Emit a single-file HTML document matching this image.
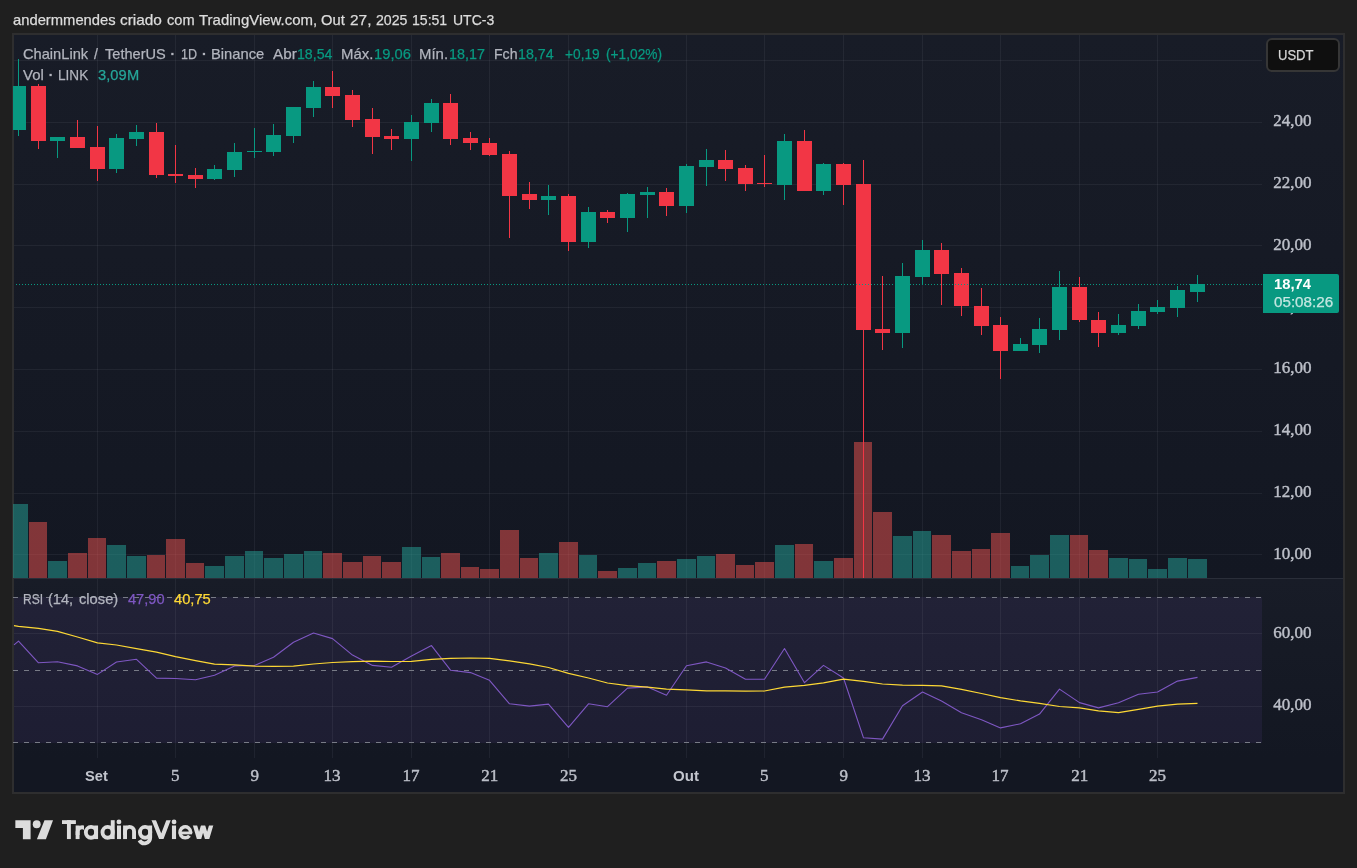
<!DOCTYPE html>
<html lang="pt"><head><meta charset="utf-8"><title>LINKUSDT</title>
<style>
html,body{margin:0;padding:0;background:#1f1f1f;}
body{width:1357px;height:868px;position:relative;overflow:hidden;font-family:"Liberation Sans",sans-serif;}
.t{position:absolute;white-space:pre;transform-origin:0 0;margin:0;padding:0;}
.s{font-family:"Liberation Sans",sans-serif;font-size:15px;line-height:18px;}
.r{font-family:"Liberation Serif",serif;font-size:17px;line-height:20px;color:#bcbfc8;}
#frame{position:absolute;left:12px;top:33px;width:1329px;height:757px;border:2px solid #2e2e2f;background:#131722;}
.pane{position:absolute;left:0;width:1329px;background:linear-gradient(to bottom,#181c27,#131722);}
#g{position:absolute;left:0;top:0;}
#tx,#tx2{position:absolute;left:0;top:0;width:1357px;height:868px;will-change:transform;}
#cur{position:absolute;left:1266px;top:38px;width:70px;height:30px;border:2px solid #363636;border-radius:6px;background:#0f0f0f;}
#plab{position:absolute;left:1263px;top:274px;width:76px;height:39px;background:#089981;border-radius:0 2px 2px 0;}
</style></head><body>
<div id="frame"><div class="pane" style="top:0;height:543px"></div><div style="position:absolute;left:0;top:543px;width:1329px;height:1px;background:#2a2e39"></div><div class="pane" style="top:544px;height:179px"></div></div>
<svg id="g" width="1357" height="868" viewBox="0 0 1357 868">
<g shape-rendering="crispEdges">
<rect x="14" y="597" width="1248" height="146" fill="rgba(126,87,194,0.1)"/>
<rect x="97" y="35" width="1" height="543" fill="rgba(240,243,250,0.06)"/>
<rect x="97" y="579" width="1" height="179" fill="rgba(240,243,250,0.06)"/>
<rect x="175" y="35" width="1" height="543" fill="rgba(240,243,250,0.06)"/>
<rect x="175" y="579" width="1" height="179" fill="rgba(240,243,250,0.06)"/>
<rect x="254" y="35" width="1" height="543" fill="rgba(240,243,250,0.06)"/>
<rect x="254" y="579" width="1" height="179" fill="rgba(240,243,250,0.06)"/>
<rect x="332" y="35" width="1" height="543" fill="rgba(240,243,250,0.06)"/>
<rect x="332" y="579" width="1" height="179" fill="rgba(240,243,250,0.06)"/>
<rect x="411" y="35" width="1" height="543" fill="rgba(240,243,250,0.06)"/>
<rect x="411" y="579" width="1" height="179" fill="rgba(240,243,250,0.06)"/>
<rect x="489" y="35" width="1" height="543" fill="rgba(240,243,250,0.06)"/>
<rect x="489" y="579" width="1" height="179" fill="rgba(240,243,250,0.06)"/>
<rect x="568" y="35" width="1" height="543" fill="rgba(240,243,250,0.06)"/>
<rect x="568" y="579" width="1" height="179" fill="rgba(240,243,250,0.06)"/>
<rect x="686" y="35" width="1" height="543" fill="rgba(240,243,250,0.06)"/>
<rect x="686" y="579" width="1" height="179" fill="rgba(240,243,250,0.06)"/>
<rect x="764" y="35" width="1" height="543" fill="rgba(240,243,250,0.06)"/>
<rect x="764" y="579" width="1" height="179" fill="rgba(240,243,250,0.06)"/>
<rect x="843" y="35" width="1" height="543" fill="rgba(240,243,250,0.06)"/>
<rect x="843" y="579" width="1" height="179" fill="rgba(240,243,250,0.06)"/>
<rect x="922" y="35" width="1" height="543" fill="rgba(240,243,250,0.06)"/>
<rect x="922" y="579" width="1" height="179" fill="rgba(240,243,250,0.06)"/>
<rect x="1000" y="35" width="1" height="543" fill="rgba(240,243,250,0.06)"/>
<rect x="1000" y="579" width="1" height="179" fill="rgba(240,243,250,0.06)"/>
<rect x="1079" y="35" width="1" height="543" fill="rgba(240,243,250,0.06)"/>
<rect x="1079" y="579" width="1" height="179" fill="rgba(240,243,250,0.06)"/>
<rect x="1157" y="35" width="1" height="543" fill="rgba(240,243,250,0.06)"/>
<rect x="1157" y="579" width="1" height="179" fill="rgba(240,243,250,0.06)"/>
<rect x="14" y="60" width="1248" height="1" fill="rgba(240,243,250,0.06)"/>
<rect x="14" y="122" width="1248" height="1" fill="rgba(240,243,250,0.06)"/>
<rect x="14" y="184" width="1248" height="1" fill="rgba(240,243,250,0.06)"/>
<rect x="14" y="245" width="1248" height="1" fill="rgba(240,243,250,0.06)"/>
<rect x="14" y="307" width="1248" height="1" fill="rgba(240,243,250,0.06)"/>
<rect x="14" y="369" width="1248" height="1" fill="rgba(240,243,250,0.06)"/>
<rect x="14" y="431" width="1248" height="1" fill="rgba(240,243,250,0.06)"/>
<rect x="14" y="493" width="1248" height="1" fill="rgba(240,243,250,0.06)"/>
<rect x="14" y="554" width="1248" height="1" fill="rgba(240,243,250,0.06)"/>
<rect x="14" y="633" width="1248" height="1" fill="rgba(240,243,250,0.06)"/>
<rect x="14" y="706" width="1248" height="1" fill="rgba(240,243,250,0.06)"/>
<rect x="13" y="504" width="15" height="74" fill="rgba(38,166,154,0.5)"/>
<rect x="29" y="522" width="18" height="56" fill="rgba(239,83,80,0.5)"/>
<rect x="48" y="561" width="19" height="17" fill="rgba(38,166,154,0.5)"/>
<rect x="68" y="553" width="19" height="25" fill="rgba(239,83,80,0.5)"/>
<rect x="88" y="538" width="18" height="40" fill="rgba(239,83,80,0.5)"/>
<rect x="107" y="545" width="19" height="33" fill="rgba(38,166,154,0.5)"/>
<rect x="127" y="556" width="19" height="22" fill="rgba(38,166,154,0.5)"/>
<rect x="147" y="555" width="18" height="23" fill="rgba(239,83,80,0.5)"/>
<rect x="166" y="539" width="19" height="39" fill="rgba(239,83,80,0.5)"/>
<rect x="186" y="563" width="18" height="15" fill="rgba(239,83,80,0.5)"/>
<rect x="205" y="566" width="19" height="12" fill="rgba(38,166,154,0.5)"/>
<rect x="225" y="556" width="19" height="22" fill="rgba(38,166,154,0.5)"/>
<rect x="245" y="551" width="18" height="27" fill="rgba(38,166,154,0.5)"/>
<rect x="264" y="558" width="19" height="20" fill="rgba(38,166,154,0.5)"/>
<rect x="284" y="554" width="19" height="24" fill="rgba(38,166,154,0.5)"/>
<rect x="304" y="551" width="18" height="27" fill="rgba(38,166,154,0.5)"/>
<rect x="323" y="553" width="19" height="25" fill="rgba(239,83,80,0.5)"/>
<rect x="343" y="562" width="19" height="16" fill="rgba(239,83,80,0.5)"/>
<rect x="363" y="556" width="18" height="22" fill="rgba(239,83,80,0.5)"/>
<rect x="382" y="562" width="19" height="16" fill="rgba(239,83,80,0.5)"/>
<rect x="402" y="547" width="19" height="31" fill="rgba(38,166,154,0.5)"/>
<rect x="422" y="557" width="18" height="21" fill="rgba(38,166,154,0.5)"/>
<rect x="441" y="553" width="19" height="25" fill="rgba(239,83,80,0.5)"/>
<rect x="461" y="567" width="18" height="11" fill="rgba(239,83,80,0.5)"/>
<rect x="480" y="569" width="19" height="9" fill="rgba(239,83,80,0.5)"/>
<rect x="500" y="530" width="19" height="48" fill="rgba(239,83,80,0.5)"/>
<rect x="520" y="558" width="18" height="20" fill="rgba(239,83,80,0.5)"/>
<rect x="539" y="553" width="19" height="25" fill="rgba(38,166,154,0.5)"/>
<rect x="559" y="542" width="19" height="36" fill="rgba(239,83,80,0.5)"/>
<rect x="579" y="555" width="18" height="23" fill="rgba(38,166,154,0.5)"/>
<rect x="598" y="571" width="19" height="7" fill="rgba(239,83,80,0.5)"/>
<rect x="618" y="568" width="19" height="10" fill="rgba(38,166,154,0.5)"/>
<rect x="638" y="563" width="18" height="15" fill="rgba(38,166,154,0.5)"/>
<rect x="657" y="561" width="19" height="17" fill="rgba(239,83,80,0.5)"/>
<rect x="677" y="559" width="19" height="19" fill="rgba(38,166,154,0.5)"/>
<rect x="697" y="556" width="18" height="22" fill="rgba(38,166,154,0.5)"/>
<rect x="716" y="554" width="19" height="24" fill="rgba(239,83,80,0.5)"/>
<rect x="736" y="565" width="18" height="13" fill="rgba(239,83,80,0.5)"/>
<rect x="755" y="562" width="19" height="16" fill="rgba(239,83,80,0.5)"/>
<rect x="775" y="545" width="19" height="33" fill="rgba(38,166,154,0.5)"/>
<rect x="795" y="544" width="18" height="34" fill="rgba(239,83,80,0.5)"/>
<rect x="814" y="561" width="19" height="17" fill="rgba(38,166,154,0.5)"/>
<rect x="834" y="558" width="19" height="20" fill="rgba(239,83,80,0.5)"/>
<rect x="854" y="442" width="18" height="136" fill="rgba(239,83,80,0.5)"/>
<rect x="873" y="512" width="19" height="66" fill="rgba(239,83,80,0.5)"/>
<rect x="893" y="536" width="19" height="42" fill="rgba(38,166,154,0.5)"/>
<rect x="913" y="531" width="18" height="47" fill="rgba(38,166,154,0.5)"/>
<rect x="932" y="535" width="19" height="43" fill="rgba(239,83,80,0.5)"/>
<rect x="952" y="551" width="19" height="27" fill="rgba(239,83,80,0.5)"/>
<rect x="972" y="549" width="18" height="29" fill="rgba(239,83,80,0.5)"/>
<rect x="991" y="533" width="19" height="45" fill="rgba(239,83,80,0.5)"/>
<rect x="1011" y="566" width="18" height="12" fill="rgba(38,166,154,0.5)"/>
<rect x="1030" y="555" width="19" height="23" fill="rgba(38,166,154,0.5)"/>
<rect x="1050" y="535" width="19" height="43" fill="rgba(38,166,154,0.5)"/>
<rect x="1070" y="535" width="18" height="43" fill="rgba(239,83,80,0.5)"/>
<rect x="1089" y="550" width="19" height="28" fill="rgba(239,83,80,0.5)"/>
<rect x="1109" y="558" width="19" height="20" fill="rgba(38,166,154,0.5)"/>
<rect x="1129" y="559" width="18" height="19" fill="rgba(38,166,154,0.5)"/>
<rect x="1148" y="569" width="19" height="9" fill="rgba(38,166,154,0.5)"/>
<rect x="1168" y="558" width="19" height="20" fill="rgba(38,166,154,0.5)"/>
<rect x="1188" y="559" width="19" height="19" fill="rgba(38,166,154,0.5)"/>
<rect x="18" y="59" width="1" height="77" fill="#089981"/>
<rect x="13" y="86" width="13" height="44" fill="#089981"/>
<rect x="38" y="84" width="1" height="65" fill="#f23645"/>
<rect x="31" y="86" width="15" height="55" fill="#f23645"/>
<rect x="57" y="137" width="1" height="21" fill="#089981"/>
<rect x="50" y="137" width="15" height="4" fill="#089981"/>
<rect x="77" y="120" width="1" height="28" fill="#f23645"/>
<rect x="70" y="137" width="15" height="11" fill="#f23645"/>
<rect x="97" y="126" width="1" height="55" fill="#f23645"/>
<rect x="90" y="147" width="15" height="22" fill="#f23645"/>
<rect x="116" y="134" width="1" height="39" fill="#089981"/>
<rect x="109" y="138" width="15" height="31" fill="#089981"/>
<rect x="136" y="125" width="1" height="21" fill="#089981"/>
<rect x="129" y="132" width="15" height="7" fill="#089981"/>
<rect x="156" y="123" width="1" height="55" fill="#f23645"/>
<rect x="149" y="132" width="15" height="43" fill="#f23645"/>
<rect x="175" y="145" width="1" height="38" fill="#f23645"/>
<rect x="168" y="174" width="15" height="2" fill="#f23645"/>
<rect x="195" y="168" width="1" height="20" fill="#f23645"/>
<rect x="188" y="175" width="15" height="4" fill="#f23645"/>
<rect x="214" y="165" width="1" height="15" fill="#089981"/>
<rect x="207" y="169" width="15" height="10" fill="#089981"/>
<rect x="234" y="143" width="1" height="34" fill="#089981"/>
<rect x="227" y="152" width="15" height="18" fill="#089981"/>
<rect x="254" y="128" width="1" height="30" fill="#089981"/>
<rect x="247" y="151" width="15" height="1" fill="#089981"/>
<rect x="273" y="124" width="1" height="32" fill="#089981"/>
<rect x="266" y="135" width="15" height="17" fill="#089981"/>
<rect x="293" y="107" width="1" height="36" fill="#089981"/>
<rect x="286" y="107" width="15" height="29" fill="#089981"/>
<rect x="313" y="81" width="1" height="36" fill="#089981"/>
<rect x="306" y="87" width="15" height="21" fill="#089981"/>
<rect x="332" y="71" width="1" height="37" fill="#f23645"/>
<rect x="325" y="87" width="15" height="9" fill="#f23645"/>
<rect x="352" y="90" width="1" height="37" fill="#f23645"/>
<rect x="345" y="95" width="15" height="25" fill="#f23645"/>
<rect x="372" y="108" width="1" height="46" fill="#f23645"/>
<rect x="365" y="119" width="15" height="18" fill="#f23645"/>
<rect x="391" y="129" width="1" height="21" fill="#f23645"/>
<rect x="384" y="136" width="15" height="3" fill="#f23645"/>
<rect x="411" y="115" width="1" height="46" fill="#089981"/>
<rect x="404" y="122" width="15" height="17" fill="#089981"/>
<rect x="431" y="99" width="1" height="33" fill="#089981"/>
<rect x="424" y="103" width="15" height="20" fill="#089981"/>
<rect x="450" y="94" width="1" height="51" fill="#f23645"/>
<rect x="443" y="103" width="15" height="36" fill="#f23645"/>
<rect x="470" y="132" width="1" height="18" fill="#f23645"/>
<rect x="463" y="138" width="15" height="5" fill="#f23645"/>
<rect x="489" y="138" width="1" height="18" fill="#f23645"/>
<rect x="482" y="143" width="15" height="12" fill="#f23645"/>
<rect x="509" y="151" width="1" height="87" fill="#f23645"/>
<rect x="502" y="154" width="15" height="42" fill="#f23645"/>
<rect x="529" y="182" width="1" height="27" fill="#f23645"/>
<rect x="522" y="194" width="15" height="6" fill="#f23645"/>
<rect x="548" y="185" width="1" height="30" fill="#089981"/>
<rect x="541" y="196" width="15" height="4" fill="#089981"/>
<rect x="568" y="194" width="1" height="57" fill="#f23645"/>
<rect x="561" y="196" width="15" height="46" fill="#f23645"/>
<rect x="588" y="207" width="1" height="41" fill="#089981"/>
<rect x="581" y="212" width="15" height="30" fill="#089981"/>
<rect x="607" y="210" width="1" height="13" fill="#f23645"/>
<rect x="600" y="212" width="15" height="6" fill="#f23645"/>
<rect x="627" y="193" width="1" height="39" fill="#089981"/>
<rect x="620" y="194" width="15" height="24" fill="#089981"/>
<rect x="647" y="187" width="1" height="31" fill="#089981"/>
<rect x="640" y="192" width="15" height="3" fill="#089981"/>
<rect x="666" y="188" width="1" height="28" fill="#f23645"/>
<rect x="659" y="192" width="15" height="14" fill="#f23645"/>
<rect x="686" y="164" width="1" height="49" fill="#089981"/>
<rect x="679" y="166" width="15" height="40" fill="#089981"/>
<rect x="706" y="149" width="1" height="37" fill="#089981"/>
<rect x="699" y="160" width="15" height="7" fill="#089981"/>
<rect x="725" y="150" width="1" height="31" fill="#f23645"/>
<rect x="718" y="160" width="15" height="9" fill="#f23645"/>
<rect x="745" y="165" width="1" height="26" fill="#f23645"/>
<rect x="738" y="168" width="15" height="16" fill="#f23645"/>
<rect x="764" y="155" width="1" height="32" fill="#f23645"/>
<rect x="757" y="183" width="15" height="1" fill="#f23645"/>
<rect x="784" y="134" width="1" height="66" fill="#089981"/>
<rect x="777" y="141" width="15" height="44" fill="#089981"/>
<rect x="804" y="130" width="1" height="61" fill="#f23645"/>
<rect x="797" y="141" width="15" height="50" fill="#f23645"/>
<rect x="823" y="163" width="1" height="32" fill="#089981"/>
<rect x="816" y="164" width="15" height="27" fill="#089981"/>
<rect x="843" y="163" width="1" height="42" fill="#f23645"/>
<rect x="836" y="164" width="15" height="21" fill="#f23645"/>
<rect x="863" y="160" width="1" height="418" fill="#f23645"/>
<rect x="856" y="184" width="15" height="146" fill="#f23645"/>
<rect x="882" y="276" width="1" height="74" fill="#f23645"/>
<rect x="875" y="329" width="15" height="4" fill="#f23645"/>
<rect x="902" y="263" width="1" height="85" fill="#089981"/>
<rect x="895" y="276" width="15" height="57" fill="#089981"/>
<rect x="922" y="240" width="1" height="45" fill="#089981"/>
<rect x="915" y="250" width="15" height="27" fill="#089981"/>
<rect x="941" y="243" width="1" height="62" fill="#f23645"/>
<rect x="934" y="250" width="15" height="24" fill="#f23645"/>
<rect x="961" y="268" width="1" height="48" fill="#f23645"/>
<rect x="954" y="273" width="15" height="33" fill="#f23645"/>
<rect x="981" y="288" width="1" height="47" fill="#f23645"/>
<rect x="974" y="306" width="15" height="20" fill="#f23645"/>
<rect x="1000" y="317" width="1" height="62" fill="#f23645"/>
<rect x="993" y="325" width="15" height="26" fill="#f23645"/>
<rect x="1020" y="338" width="1" height="13" fill="#089981"/>
<rect x="1013" y="344" width="15" height="7" fill="#089981"/>
<rect x="1039" y="318" width="1" height="35" fill="#089981"/>
<rect x="1032" y="329" width="15" height="16" fill="#089981"/>
<rect x="1059" y="271" width="1" height="69" fill="#089981"/>
<rect x="1052" y="287" width="15" height="43" fill="#089981"/>
<rect x="1079" y="277" width="1" height="45" fill="#f23645"/>
<rect x="1072" y="287" width="15" height="33" fill="#f23645"/>
<rect x="1098" y="312" width="1" height="35" fill="#f23645"/>
<rect x="1091" y="320" width="15" height="13" fill="#f23645"/>
<rect x="1118" y="314" width="1" height="21" fill="#089981"/>
<rect x="1111" y="325" width="15" height="8" fill="#089981"/>
<rect x="1138" y="304" width="1" height="25" fill="#089981"/>
<rect x="1131" y="311" width="15" height="15" fill="#089981"/>
<rect x="1157" y="300" width="1" height="14" fill="#089981"/>
<rect x="1150" y="307" width="15" height="5" fill="#089981"/>
<rect x="1177" y="286" width="1" height="31" fill="#089981"/>
<rect x="1170" y="290" width="15" height="18" fill="#089981"/>
<rect x="1197" y="275" width="1" height="27" fill="#089981"/>
<rect x="1190" y="284" width="15" height="8" fill="#089981"/>
<path d="M16 284.5H1262" stroke="#089981" stroke-width="1" stroke-dasharray="1 2" fill="none"/>
<path d="M13 597.5H1262" stroke="#787b86" stroke-width="1" stroke-dasharray="5 6" fill="none"/>
<path d="M13 670.5H1262" stroke="#787b86" stroke-width="1" stroke-dasharray="5 6" fill="none"/>
<path d="M13 742.5H1262" stroke="#787b86" stroke-width="1" stroke-dasharray="5 6" fill="none"/>
</g>
<polyline points="14,644.8 18.5,641.1 38.5,662.8 57.5,661.8 77.5,665.9 97.5,674.4 116.5,662.0 136.5,659.3 156.5,678.1 175.5,678.5 195.5,679.7 214.5,675.2 234.5,665.9 254.5,665.5 273.5,657.3 293.5,642.3 313.5,633.0 332.5,638.6 352.5,655.1 372.5,665.4 391.5,667.3 411.5,656.1 431.5,645.6 450.5,670.2 470.5,672.6 489.5,680.3 509.5,703.8 529.5,706.1 548.5,704.1 568.5,727.3 588.5,703.8 607.5,706.7 627.5,688.1 647.5,686.9 666.5,695.3 686.5,665.8 706.5,661.9 725.5,667.9 745.5,679.2 764.5,679.2 784.5,648.5 804.5,682.7 823.5,665.4 843.5,678.0 863.5,737.8 882.5,739.1 902.5,705.7 922.5,692.0 941.5,701.1 961.5,712.7 981.5,719.7 1000.5,727.9 1020.5,723.8 1039.5,714.1 1059.5,689.1 1079.5,702.6 1098.5,707.9 1118.5,702.8 1138.5,694.3 1157.5,692.0 1177.5,681.1 1197.5,677.4" fill="none" stroke="#7e57c2" stroke-width="1.1" stroke-linejoin="round" stroke-linecap="butt"/>
<polyline points="14,625.7 18.5,626.3 38.5,628.3 57.5,631.4 77.5,637.0 97.5,642.8 116.5,645.0 136.5,648.6 156.5,652.1 175.5,656.6 195.5,660.7 214.5,664.2 234.5,664.9 254.5,666.1 273.5,666.3 293.5,666.2 313.5,664.0 332.5,662.5 352.5,661.7 372.5,661.1 391.5,661.5 411.5,661.3 431.5,659.4 450.5,658.4 470.5,658.0 489.5,658.4 509.5,660.9 529.5,663.8 548.5,667.5 568.5,673.3 588.5,678.0 607.5,683.0 627.5,685.6 647.5,687.1 666.5,689.1 686.5,689.8 706.5,690.8 725.5,690.8 745.5,691.2 764.5,691.0 784.5,687.1 804.5,685.3 823.5,682.8 843.5,679.2 863.5,681.3 882.5,684.0 902.5,685.2 922.5,685.4 941.5,685.8 961.5,689.4 981.5,693.5 1000.5,697.6 1020.5,700.9 1039.5,703.4 1059.5,706.5 1079.5,707.8 1098.5,710.8 1118.5,712.7 1138.5,709.4 1157.5,706.1 1177.5,704.2 1197.5,703.4" fill="none" stroke="#fdd835" stroke-width="1.2" stroke-linejoin="round" stroke-linecap="butt"/>
<rect x="171.25" y="52.85" width="2.3" height="2.3" fill="#b2b5be"/>
<rect x="202.80" y="52.85" width="2.3" height="2.3" fill="#b2b5be"/>
<rect x="49.45" y="73.85" width="2.3" height="2.3" fill="#b2b5be"/>
<g fill="#dcdcdc" stroke="none">
<path d="M15.35 820.2H30.6V839.25H22.9V827.95H15.35Z"/>
<circle cx="36.7" cy="824.25" r="3.95"/>
<path d="M44.5 820.2H53L45.9 839.25H36.9Z"/>
<rect x="62" y="820.2" width="13.9" height="3.8"/><rect x="66.95" y="820.2" width="3.9" height="18.87"/>
<rect x="75.65" y="825.5" width="3.9" height="13.57"/>
<rect x="94.15" y="825.5" width="3.9" height="13.57"/>
<rect x="110.78" y="820.2" width="3.9" height="18.87"/>
<rect x="117" y="825.5" width="4" height="13.57"/><circle cx="118.95" cy="821.95" r="2.4"/>
<rect x="123.1" y="825.5" width="3.9" height="13.57"/>
<rect x="171.95" y="825.5" width="4.1" height="13.57"/><circle cx="174.05" cy="821.95" r="2.4"/>
</g>
<defs><clipPath id="cr"><rect x="70" y="815" width="13.9" height="30"/></clipPath><clipPath id="cv"><rect x="140" y="820.2" width="40" height="18.87"/></clipPath><clipPath id="cw"><rect x="185" y="825.5" width="35" height="13.57"/></clipPath><clipPath id="ce"><ellipse cx="185.27" cy="832.3" rx="7.1" ry="7.4"/></clipPath></defs>
<g fill="none" stroke="#dcdcdc" stroke-width="3.9">
<path clip-path="url(#cr)" d="M77.6 835V831.8A4.5 4.5 0 0 1 86.6 831.8"/>
<ellipse cx="91" cy="832.3" rx="5.15" ry="5.4"/>
<ellipse cx="107.63" cy="832.3" rx="5.15" ry="5.4"/>
<path d="M125.05 835V831.4A4.5 4.5 0 0 1 134.05 831.4V839.07"/>
<ellipse cx="145.1" cy="832.3" rx="5.15" ry="5.4"/>
<path d="M150.17 825.5V837.6A5.7 5.7 0 0 1 139.44 840.27"/>
<path stroke-width="3.5" d="M190.62 832.3A5.35 5.55 0 1 0 189.49 835.72"/>
</g>
<rect clip-path="url(#ce)" x="181" y="831.55" width="12" height="2.8" fill="#dcdcdc"/>
<g fill="none" stroke="#dcdcdc" stroke-width="4.15" stroke-linejoin="miter" stroke-miterlimit="10">
<path clip-path="url(#cv)" d="M152.64 817.41L162.41 841.86M169.57 817.40L160.23 841.87"/>
<path clip-path="url(#cw)" d="M194.18 822.62L199.90 841.95M198.20 841.95L203.92 822.62M202.22 822.62L207.94 841.95M206.24 841.95L211.96 822.62"/>
</g>
</svg>
<div id="cur"></div>
<div id="tx">
<span class="t s" style="left:13.26px;top:11.00px;transform:scaleX(0.9849);color:#dcdcdc;-webkit-text-stroke:0.25px currentColor;">andermmendes</span>
<span class="t s" style="left:119.81px;top:11.00px;transform:scaleX(1.0264);color:#dcdcdc;-webkit-text-stroke:0.25px currentColor;">criado</span>
<span class="t s" style="left:166.51px;top:11.00px;transform:scaleX(0.9745);color:#dcdcdc;-webkit-text-stroke:0.25px currentColor;">com</span>
<span class="t s" style="left:199.19px;top:11.00px;transform:scaleX(0.9984);color:#dcdcdc;-webkit-text-stroke:0.25px currentColor;">TradingView.com,</span>
<span class="t s" style="left:321.26px;top:11.00px;transform:scaleX(0.9816);color:#dcdcdc;-webkit-text-stroke:0.25px currentColor;">Out</span>
<span class="t s" style="left:350.43px;top:11.00px;transform:scaleX(1.0294);color:#dcdcdc;-webkit-text-stroke:0.25px currentColor;">27,</span>
<span class="t s" style="left:375.88px;top:11.00px;transform:scaleX(0.9419);color:#dcdcdc;-webkit-text-stroke:0.25px currentColor;">2025</span>
<span class="t s" style="left:412.42px;top:11.00px;transform:scaleX(0.9365);color:#dcdcdc;-webkit-text-stroke:0.25px currentColor;">15:51</span>
<span class="t s" style="left:453.24px;top:11.00px;transform:scaleX(0.9326);color:#dcdcdc;-webkit-text-stroke:0.25px currentColor;">UTC-3</span>
<span class="t s" style="left:23.33px;top:45.00px;transform:scaleX(0.9765);color:#b2b5be;-webkit-text-stroke:0.25px currentColor;">ChainLink</span>
<span class="t s" style="left:94.45px;top:45.00px;transform:scaleX(0.9348);color:#b2b5be;-webkit-text-stroke:0.25px currentColor;">/</span>
<span class="t s" style="left:105.38px;top:45.00px;transform:scaleX(0.9713);color:#b2b5be;-webkit-text-stroke:0.25px currentColor;">TetherUS</span>
<span class="t s" style="left:181.00px;top:45.00px;transform:scaleX(0.8361);color:#b2b5be;-webkit-text-stroke:0.25px currentColor;">1D</span>
<span class="t s" style="left:210.65px;top:45.00px;transform:scaleX(0.9820);color:#b2b5be;-webkit-text-stroke:0.25px currentColor;">Binance</span>
<span class="t s" style="left:273.11px;top:45.00px;transform:scaleX(1.0180);color:#b2b5be;-webkit-text-stroke:0.25px currentColor;">Abr</span>
<span class="t s" style="left:296.81px;top:45.00px;transform:scaleX(0.9416);color:#089981;-webkit-text-stroke:0.25px currentColor;">18,54</span>
<span class="t s" style="left:341.13px;top:45.00px;transform:scaleX(0.9960);color:#b2b5be;-webkit-text-stroke:0.25px currentColor;">Máx.</span>
<span class="t s" style="left:373.88px;top:45.00px;transform:scaleX(0.9819);color:#089981;-webkit-text-stroke:0.25px currentColor;">19,06</span>
<span class="t s" style="left:418.73px;top:45.00px;transform:scaleX(0.9950);color:#b2b5be;-webkit-text-stroke:0.25px currentColor;">Mín.</span>
<span class="t s" style="left:448.60px;top:45.00px;transform:scaleX(0.9552);color:#089981;-webkit-text-stroke:0.25px currentColor;">18,17</span>
<span class="t s" style="left:494.38px;top:45.00px;transform:scaleX(0.9411);color:#b2b5be;-webkit-text-stroke:0.25px currentColor;">Fch</span>
<span class="t s" style="left:517.61px;top:45.00px;transform:scaleX(0.9496);color:#089981;-webkit-text-stroke:0.25px currentColor;">18,74</span>
<span class="t s" style="left:564.73px;top:45.00px;transform:scaleX(0.9153);color:#089981;-webkit-text-stroke:0.25px currentColor;">+0,19</span>
<span class="t s" style="left:605.94px;top:45.00px;transform:scaleX(0.9140);color:#089981;-webkit-text-stroke:0.25px currentColor;">(+1,02%)</span>
<span class="t s" style="left:23.06px;top:66.00px;transform:scaleX(0.9949);color:#b2b5be;-webkit-text-stroke:0.25px currentColor;">Vol</span>
<span class="t s" style="left:57.81px;top:66.00px;transform:scaleX(0.9052);color:#b2b5be;-webkit-text-stroke:0.25px currentColor;">LINK</span>
<span class="t s" style="left:97.51px;top:66.00px;transform:scaleX(0.9780);color:#26a69a;-webkit-text-stroke:0.25px currentColor;">3,09</span>
<span class="t s" style="left:127.45px;top:66.00px;transform:scaleX(0.9787);color:#26a69a;-webkit-text-stroke:0.25px currentColor;">M</span>
<span class="t s" style="left:22.70px;top:590.00px;transform:scaleX(0.8015);color:#b2b5be;-webkit-text-stroke:0.25px currentColor;">RSI</span>
<span class="t s" style="left:48.49px;top:590.00px;transform:scaleX(0.9732);color:#b2b5be;-webkit-text-stroke:0.25px currentColor;">(14,</span>
<span class="t s" style="left:79.11px;top:590.00px;transform:scaleX(0.9803);color:#b2b5be;-webkit-text-stroke:0.25px currentColor;">close)</span>
<span class="t s" style="left:128.08px;top:590.00px;transform:scaleX(0.9728);color:#7e57c2;-webkit-text-stroke:0.25px currentColor;">47,90</span>
<span class="t s" style="left:173.68px;top:590.00px;transform:scaleX(0.9790);color:#fdd835;-webkit-text-stroke:0.25px currentColor;">40,75</span>
<span class="t s" style="left:1277.79px;top:46.00px;transform:scaleX(0.8693);color:#d6d6d6;-webkit-text-stroke:0.25px currentColor;">USDT</span>
<span class="t r" style="left:1273.20px;top:111.20px;-webkit-text-stroke:0.45px currentColor;">24,00</span>
<span class="t r" style="left:1273.20px;top:172.97px;-webkit-text-stroke:0.45px currentColor;">22,00</span>
<span class="t r" style="left:1273.20px;top:234.74px;-webkit-text-stroke:0.45px currentColor;">20,00</span>
<span class="t r" style="left:1273.20px;top:296.51px;-webkit-text-stroke:0.45px currentColor;">18,00</span>
<span class="t r" style="left:1273.20px;top:358.28px;-webkit-text-stroke:0.45px currentColor;">16,00</span>
<span class="t r" style="left:1273.20px;top:420.05px;-webkit-text-stroke:0.45px currentColor;">14,00</span>
<span class="t r" style="left:1273.20px;top:481.82px;-webkit-text-stroke:0.45px currentColor;">12,00</span>
<span class="t r" style="left:1273.20px;top:543.59px;-webkit-text-stroke:0.45px currentColor;">10,00</span>
<span class="t r" style="left:1273.20px;top:623.20px;-webkit-text-stroke:0.45px currentColor;">60,00</span>
<span class="t r" style="left:1273.20px;top:695.40px;-webkit-text-stroke:0.45px currentColor;">40,00</span>
<span class="t s" style="left:85.18px;top:767.00px;transform:scaleX(0.9787);color:#c3c6ce;font-weight:700;">Set</span>
<span class="t s" style="left:672.99px;top:767.00px;transform:scaleX(1.0030);color:#c3c6ce;font-weight:700;">Out</span>
<span class="t r" style="left:171.03px;top:766.00px;-webkit-text-stroke:0.45px currentColor;">5</span>
<span class="t r" style="left:250.39px;top:766.00px;-webkit-text-stroke:0.45px currentColor;">9</span>
<span class="t r" style="left:323.50px;top:766.00px;-webkit-text-stroke:0.45px currentColor;">13</span>
<span class="t r" style="left:402.47px;top:766.00px;-webkit-text-stroke:0.45px currentColor;">17</span>
<span class="t r" style="left:481.33px;top:766.00px;-webkit-text-stroke:0.45px currentColor;">21</span>
<span class="t r" style="left:559.99px;top:766.00px;-webkit-text-stroke:0.45px currentColor;">25</span>
<span class="t r" style="left:760.03px;top:766.00px;-webkit-text-stroke:0.45px currentColor;">5</span>
<span class="t r" style="left:839.39px;top:766.00px;-webkit-text-stroke:0.45px currentColor;">9</span>
<span class="t r" style="left:913.50px;top:766.00px;-webkit-text-stroke:0.45px currentColor;">13</span>
<span class="t r" style="left:991.47px;top:766.00px;-webkit-text-stroke:0.45px currentColor;">17</span>
<span class="t r" style="left:1071.33px;top:766.00px;-webkit-text-stroke:0.45px currentColor;">21</span>
<span class="t r" style="left:1148.99px;top:766.00px;-webkit-text-stroke:0.45px currentColor;">25</span>
</div>
<div id="plab"></div>
<div id="tx2">
<span class="t s" style="left:1274.10px;top:274.60px;transform:scaleX(0.9865);color:#ffffff;font-weight:700;">18,74</span>
<span class="t s" style="left:1273.91px;top:292.60px;transform:scaleX(1.0130);color:rgba(255,255,255,0.72);-webkit-text-stroke:0.25px currentColor;">05:08:26</span>
</div>
</body></html>
